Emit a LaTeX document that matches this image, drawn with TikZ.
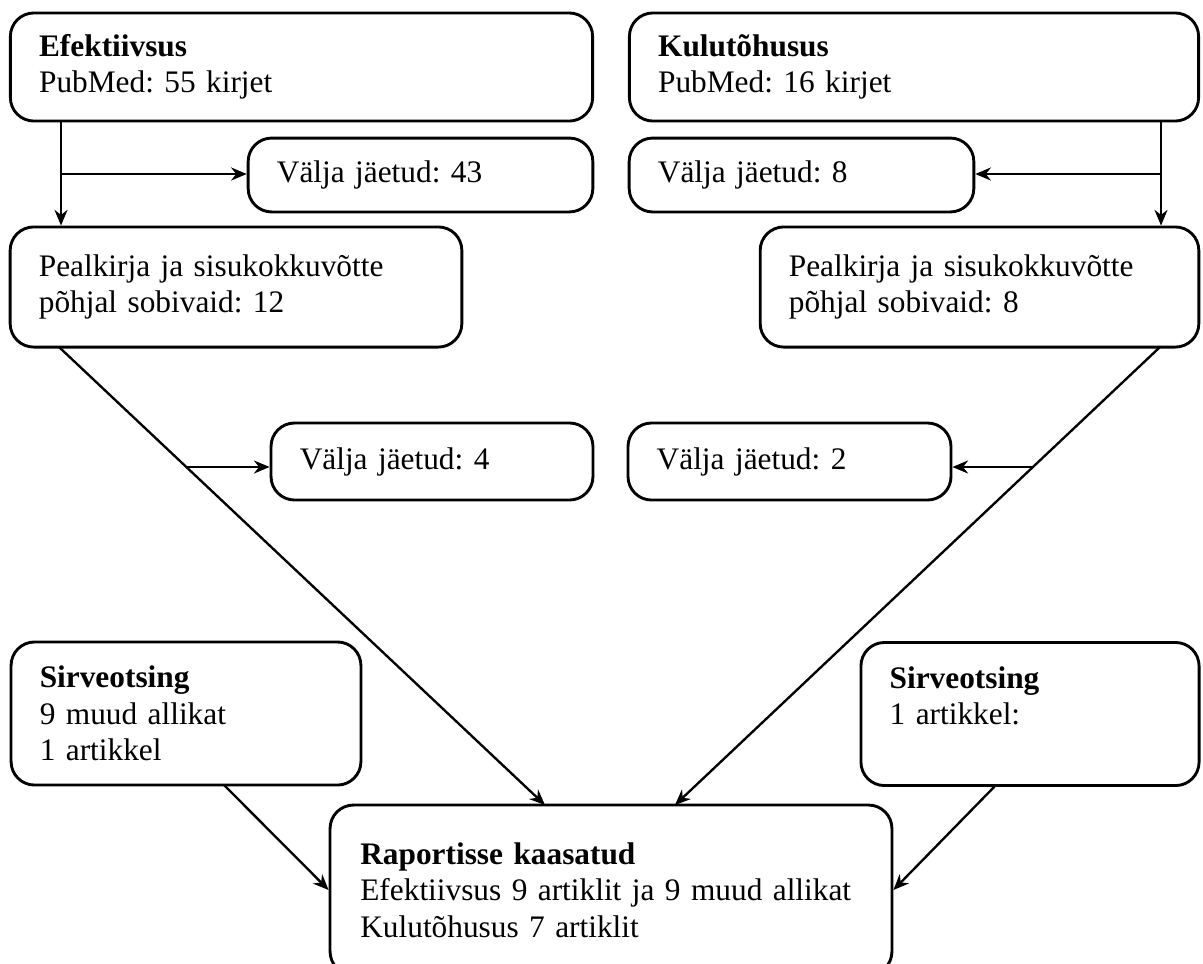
\documentclass[tikz,border=0pt]{standalone}
\usepackage{fontspec}
\setmainfont{Liberation Serif}
\usetikzlibrary{arrows.meta}
\frenchspacing

\begin{document}
\begin{tikzpicture}[x=0.383pt,y=-0.383pt,>={Stealth[length=6pt,width=5pt]}]
        \tikzstyle{every node} = [font=\fontsize{12}{14}\selectfont]
        \tikzstyle{rbox} = [draw, line width=1.1pt, rounded corners=9pt, align=left, inner xsep=11pt, inner ysep=0pt]
        \useasboundingbox (0,0) rectangle (1203,963);
        % search boxes
        \node[rbox, text width=201pt, minimum height=41.4pt] (eff) at (301.5,67) {\textbf{Efektiivsus}\\PubMed: 55 kirjet};
        \node[rbox, text width=196pt, minimum height=41.4pt] (kul) at (914,67) {\textbf{Kulutõhusus}\\PubMed: 16 kirjet};
        \node[rbox, text width=110pt, minimum height=28.3pt] (out1) at (420.5,175) {Välja jäetud: 43};
        \node[rbox, text width=110pt, minimum height=28.3pt] (out2) at (801.5,175) {Välja jäetud: 8};
        \node[rbox, text width=151pt, minimum height=46pt] (scr1) at (236,287) {Pealkirja ja sisukokkuvõtte\\põhjal sobivaid: 12};
        \node[rbox, text width=146pt, minimum height=46pt] (scr2) at (979.5,287) {Pealkirja ja sisukokkuvõtte\\põhjal sobivaid: 8};
        \node[rbox, text width=101.3pt, minimum height=29.5pt] (out3) at (432,461.5) {Välja jäetud: 4};
        \node[rbox, text width=101.7pt, minimum height=29.5pt] (out4) at (789.5,461.5) {Välja jäetud: 2};
        \node[rbox, text width=112pt, minimum height=54.8pt] (hand1) at (186,713.5) {\textbf{Sirveotsing}\\9 muud allikat\\1 artikkel};
        \node[rbox, text width=107.5pt, minimum height=54.8pt] (hand2) at (1030,714) {\textbf{Sirveotsing}\\1 artikkel:\\\mbox{}};
        \node[rbox, inner xsep=11.6pt, text width=192pt, minimum height=65.1pt] (incl) at (611,890) {\textbf{Raportisse kaasatud}\\Efektiivsus 9 artiklit ja 9 muud allikat\\Kulutõhusus 7 artiklit};
        % branch points
        \coordinate (t1) at (61,174);
        \coordinate (t2) at (1161,174);
        \coordinate (d1) at (59,347);
        \coordinate (d2) at (1160,347);
        \coordinate (t3) at (186,467);
        \coordinate (t4) at (1033,467);
        \coordinate (i1) at (545,805);
        \coordinate (i2) at (675,805);
        \coordinate (h1) at (224,785);
        \coordinate (h2) at (996,785);
        \foreach \from/\to in {eff.south -| t1/scr1.north -| t1, t1/t1 -| out1.west,
                kul.south -| t2/scr2.north -| t2, t2/t2 -| out2.east,
                d1/i1, t3/t3 -| out3.west, d2/i2, t4/t4 -| out4.east,
                h1/incl.west, h2/incl.east}
            \draw[->, line width=0.9pt] (\from) -- (\to);
\end{tikzpicture}
\end{document}
